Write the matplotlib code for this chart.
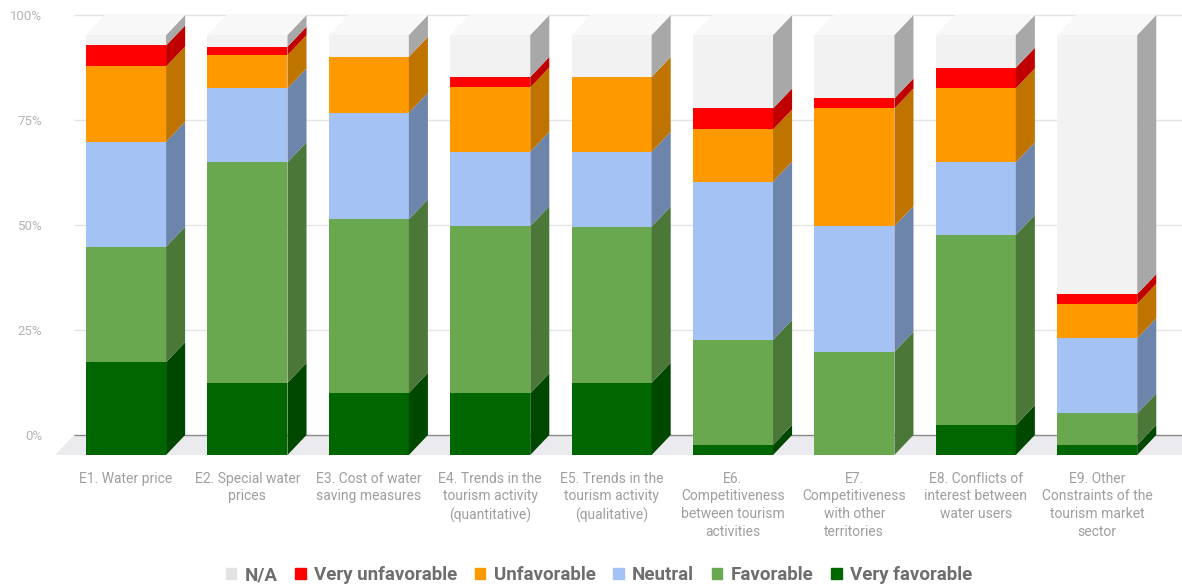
import matplotlib.pyplot as plt
from matplotlib.patches import Polygon, Patch
import numpy as np

plt.rcParams['font.family'] = ['Roboto', 'DejaVu Sans']

CATEGORIES = [
  'E1. Water price',
  'E2. Special water\nprices',
  'E3. Cost of water\nsaving measures',
  'E4. Trends in the\ntourism activity\n(quantitative)',
  'E5. Trends in the\ntourism activity\n(qualitative)',
  'E6.\nCompetitiveness\nbetween tourism\nactivities',
  'E7.\nCompetitiveness\nwith other\nterritories',
  'E8. Conflicts of\ninterest between\nwater users',
  'E9. Other\nConstraints of the\ntourism market\nsector',
]

# percentages, stacked bottom to top
VERY_FAVORABLE = [22.1, 17.2, 14.8, 14.7, 17.2, 2.4, 0.0, 7.1, 2.4]
FAVORABLE = [27.5, 52.5, 41.3, 39.8, 37.2, 25.0, 24.6, 45.3, 7.5]
NEUTRAL = [25.0, 17.6, 25.4, 17.7, 17.8, 37.7, 29.9, 17.3, 17.9]
UNFAVORABLE = [17.9, 7.9, 13.3, 15.3, 17.8, 12.4, 28.0, 17.6, 8.2]
VERY_UNFAVORABLE = [5.0, 2.0, 0.0, 2.5, 0.0, 5.0, 2.4, 4.9, 2.3]
NOT_AVAILABLE = [2.5, 2.8, 5.2, 10.0, 10.0, 17.5, 15.1, 7.8, 61.7]

SERIES = [
  ('Very favorable', VERY_FAVORABLE, '#006600', '#004700'),
  ('Favorable', FAVORABLE, '#6aa84f', '#4b7838'),
  ('Neutral', NEUTRAL, '#a4c2f4', '#6d84ab'),
  ('Unfavorable', UNFAVORABLE, '#ff9900', '#c07400'),
  ('Very unfavorable', VERY_UNFAVORABLE, '#ff0000', '#c00000'),
  ('N/A', NOT_AVAILABLE, '#f2f2f2', '#a8a8a8'),
]

WIDTH = 0.66
DX = 0.157
DY = 4.76
TICKS = [0, 25, 50, 75, 100]

fig = plt.figure(figsize=(11.82, 5.88), dpi=100)
ax = fig.add_axes([55 / 1182, 133 / 588, 1127 / 1182, 455 / 588])
ax.set_xlim(-0.585, 8.699)
ax.set_ylim(0, 108.33)
for s in ax.spines.values():
  s.set_visible(False)

x = np.arange(len(CATEGORIES))
xmin, xmax = ax.get_xlim()

# floor
ax.add_patch(Polygon([(xmin, 0), (xmin + DX, DY), (xmax, DY), (xmax, 0)],
                     closed=True, facecolor='#ebebef', edgecolor='none',
                     zorder=0))
# back gridlines
for t in TICKS:
  ax.hlines(t + DY, xmin + DX, xmax,
            color='#8a8a8a' if t == 0 else '#e4e4e4', lw=1, zorder=1)

bottom = np.zeros(len(CATEGORIES))
for name, vals, front, side in SERIES:
  vals = np.array(vals)
  ax.bar(x, vals, WIDTH, bottom=bottom, color=front, zorder=3,
         linewidth=0)
  for i in x:
    if vals[i] <= 0:
      continue
    r = i + WIDTH / 2
    b, t = bottom[i], bottom[i] + vals[i]
    ax.add_patch(Polygon([(r, b), (r + DX, b + DY), (r + DX, t + DY), (r, t)],
                         closed=True, facecolor=side, edgecolor='none',
                         zorder=3))
  bottom += vals

# top faces
for i in x:
  l, r, t = i - WIDTH / 2, i + WIDTH / 2, bottom[i]
  ax.add_patch(Polygon([(l, t), (l + DX, t + DY), (r + DX, t + DY), (r, t)],
                       closed=True, facecolor='#f8f8f8', edgecolor='none',
                       zorder=3))

ax.set_yticks([t + DY for t in TICKS])
ax.set_yticklabels(['%d%%' % t for t in TICKS], fontsize=9.5, color='#b3b3b3')
ax.set_xticks(x)
ax.set_xticklabels(CATEGORIES, fontsize=10, color='#9e9e9e', linespacing=1.33,
                   va='top')
ax.tick_params(axis='both', length=0)
ax.tick_params(axis='y', pad=9)
ax.tick_params(axis='x', pad=12)

handles = [Patch(color=c) for _, _, c, _ in SERIES[::-1]]
handles[0] = Patch(color='#e2e2e2')
labels = [n for n, _, _, _ in SERIES[::-1]]
leg = fig.legend(handles, labels, loc='center', ncol=6,
                 bbox_to_anchor=(599 / 1182, 1 - 575 / 588), frameon=False,
                 handlelength=0.55, handleheight=0.55, handletextpad=0.45,
                 columnspacing=0.95,
                 prop={'size': 13.5, 'weight': 'bold'})
for txt in leg.get_texts():
  txt.set_color('#6e6e6e')

fig.savefig('out.png', dpi=100)
